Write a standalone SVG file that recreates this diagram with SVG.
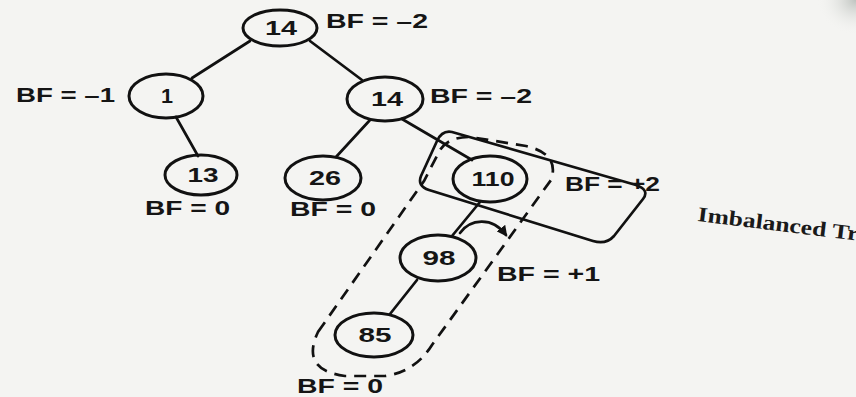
<svg xmlns="http://www.w3.org/2000/svg" width="856" height="397" viewBox="0 0 856 397">
  <defs>
    <style>
      .node ellipse { fill: none; stroke: #111; stroke-width: 3; }
      .node text, .bf { font-family: "Liberation Sans", Arial, sans-serif; font-weight: bold; fill: #151515; }
      .node text { font-size: 20px; text-anchor: middle; }
      .bf { font-size: 20px; }
      .edge { stroke: #111; stroke-width: 2.7; fill: none; stroke-linecap: round; }
      .dash { stroke: #111; stroke-width: 2.7; fill: none; stroke-dasharray: 12 8; }
      .outline { stroke: #111; stroke-width: 2.7; fill: none; stroke-linejoin: round; }
      .caption { font-family: "Liberation Serif", "Times New Roman", serif; font-weight: bold; font-size: 21px; fill: #1a1a1a; }
    </style>
    <marker id="head" viewBox="0 0 10 10" refX="8" refY="5" markerWidth="4" markerHeight="4" orient="auto">
      <path d="M0,0 L10,5 L0,10 Z" fill="#111"/>
    </marker>
    <radialGradient id="shade" cx="1" cy="0" r="0.25">
      <stop offset="0" stop-color="#bfc3bf"/>
      <stop offset="1" stop-color="#f4f4f2" stop-opacity="0"/>
    </radialGradient>
  </defs>

  <!-- paper -->
  <rect width="856" height="397" fill="#f4f4f2"/>
  <rect x="700" y="0" width="156" height="140" fill="url(#shade)"/>

  <!-- connectors -->
  <g id="connectors">
    <line class="edge" x1="250" y1="41" x2="192" y2="78"/>
    <line class="edge" x1="310" y1="41" x2="362" y2="80"/>
    <line class="edge" x1="176" y1="117" x2="198" y2="156"/>
    <line class="edge" x1="370" y1="120" x2="336" y2="157"/>
    <line class="edge" x1="402" y1="119" x2="472" y2="160"/>
    <line class="edge" x1="480" y1="202" x2="452" y2="236"/>
    <line class="edge" x1="417" y1="280" x2="390" y2="314"/>
    <!-- rotation hint arrow -->
    <path class="edge" d="M460,233 C470,219 492,216 506,235" marker-end="url(#head)"/>
  </g>

  <!-- solid frame round node 110 -->
  <path id="frame" class="outline" d="M452,132 L636,185 Q650,190 643,199 L614,236 Q606,245 593,241 L429,190 Q417,186 421,176 L437,141 Q442,130 452,132 Z"/>

  <!-- dashed frame round 110, 98, 85 -->
  <path id="chain" class="dash" d="M318,332 L424,181 L440,150 Q448,137 470,137 L526,146 Q560,154 551,180 L432,345 Q415,372 385,376 L345,376 Q300,370 318,332 Z"/>

  <!-- nodes -->
  <g id="n14root" class="node">
    <ellipse cx="280" cy="28" rx="37" ry="18"/>
    <text x="281" y="35" textLength="32" lengthAdjust="spacingAndGlyphs">14</text>
  </g>
  <g id="n1" class="node">
    <ellipse cx="166" cy="96" rx="37" ry="22"/>
    <text x="167" y="103" textLength="12" lengthAdjust="spacingAndGlyphs">1</text>
  </g>
  <g id="n13" class="node">
    <ellipse cx="201" cy="175" rx="36" ry="20"/>
    <text x="203" y="182" textLength="31" lengthAdjust="spacingAndGlyphs">13</text>
  </g>
  <g id="n14" class="node">
    <ellipse cx="385" cy="99" rx="38" ry="22"/>
    <text x="387" y="106" textLength="32" lengthAdjust="spacingAndGlyphs">14</text>
  </g>
  <g id="n26" class="node">
    <ellipse cx="323" cy="178" rx="38" ry="22"/>
    <text x="325" y="185" textLength="32" lengthAdjust="spacingAndGlyphs">26</text>
  </g>
  <g id="n110" class="node">
    <ellipse cx="490" cy="179" rx="37" ry="23"/>
    <text x="493" y="186" textLength="43" lengthAdjust="spacingAndGlyphs">110</text>
  </g>
  <g id="n98" class="node">
    <ellipse cx="438" cy="258" rx="38" ry="23"/>
    <text x="439" y="265" textLength="33" lengthAdjust="spacingAndGlyphs">98</text>
  </g>
  <g id="n85" class="node">
    <ellipse cx="374" cy="335" rx="39" ry="22"/>
    <text x="375" y="342" textLength="33" lengthAdjust="spacingAndGlyphs">85</text>
  </g>

  <!-- balance factors -->
  <g id="labels">
    <text class="bf" x="326" y="28" textLength="102" lengthAdjust="spacingAndGlyphs">BF = –2</text>
    <text class="bf" x="16" y="102" textLength="99" lengthAdjust="spacingAndGlyphs">BF = –1</text>
    <text class="bf" x="430" y="103" textLength="102" lengthAdjust="spacingAndGlyphs">BF = –2</text>
    <text class="bf" x="145" y="215" textLength="85" lengthAdjust="spacingAndGlyphs">BF = 0</text>
    <text class="bf" x="290" y="216" textLength="86" lengthAdjust="spacingAndGlyphs">BF = 0</text>
    <text class="bf" x="565" y="191" textLength="95" lengthAdjust="spacingAndGlyphs">BF = +2</text>
    <text class="bf" x="497" y="281" textLength="103" lengthAdjust="spacingAndGlyphs">BF = +1</text>
    <text class="bf" x="297" y="393" textLength="86" lengthAdjust="spacingAndGlyphs">BF = 0</text>
  </g>

  <text class="caption" transform="translate(697,221) rotate(7)" textLength="162" lengthAdjust="spacingAndGlyphs">Imbalanced Tr</text>
</svg>
